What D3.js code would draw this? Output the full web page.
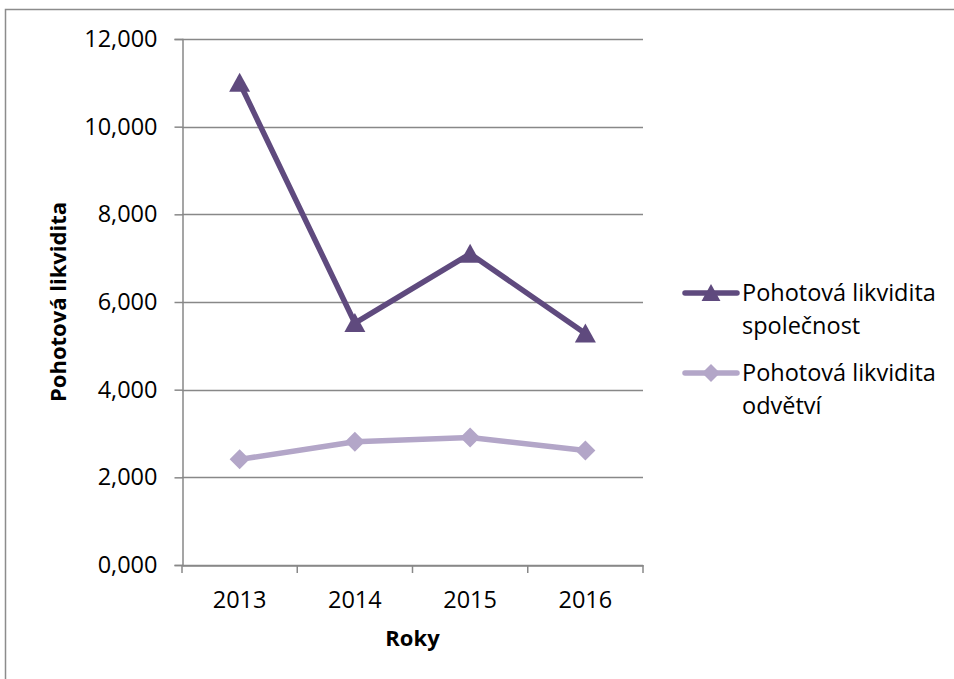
<!DOCTYPE html>
<html>
<head>
<meta charset="utf-8">
<script src="https://cdnjs.cloudflare.com/ajax/libs/d3/7.8.5/d3.min.js"></script>
<style>
  body { margin: 0; background: #fff; }
  svg { display: block; }
  text { font-family: "Open Sans", Lato, sans-serif; fill: #000; }
</style>
</head>
<body>
<svg id="chart" width="954" height="679"></svg>
<script>
// Years on the horizontal axis
const years = ["2013", "2014", "2015", "2016"];
// Quick ratio of the company and of the industry
const companyValues = [11.0, 5.52, 7.10, 5.28];
const industryValues = [2.41, 2.81, 2.91, 2.61];
const seriesNames = ["Pohotová likvidita společnost", "Pohotová likvidita odvětví"];
const yTicks = [0, 2, 4, 6, 8, 10, 12];

const FONT = "'Open Sans', Lato, sans-serif";
const svg = d3.select("#chart");
const plot = { left: 182, top: 39, right: 643, bottom: 565 };

// Outer chart frame
svg.append("rect")
  .attr("x", 5.5).attr("y", 9.5)
  .attr("width", 1000).attr("height", 1000)
  .attr("fill", "none").attr("stroke", "#8c8c8c").attr("stroke-width", 1.5);

const x = d3.scaleBand().domain(years).range([plot.left, plot.right]);
const y = d3.scaleLinear().domain([0, 12]).range([plot.bottom, plot.top]);

// Horizontal gridlines
svg.append("g")
  .selectAll("line")
  .data(yTicks)
  .join("line")
  .attr("x1", plot.left).attr("x2", plot.right)
  .attr("y1", d => Math.round(y(d)) + 0.5).attr("y2", d => Math.round(y(d)) + 0.5)
  .attr("stroke", "#888").attr("stroke-width", 1.5);

// Y axis (values shown with three decimals, decimal comma)
const yg = svg.append("g").attr("transform", `translate(${plot.left + 0.5},0)`)
  .call(d3.axisLeft(y).tickValues(yTicks).tickSize(8).tickPadding(17)
    .tickFormat(d => d + ",000"));
yg.select(".domain").attr("stroke", "#888").attr("stroke-width", 1.5);
yg.selectAll(".tick line").attr("stroke", "#888").attr("stroke-width", 1.5);
yg.selectAll(".tick text").attr("font-size", 23.5).attr("fill", "#000")
  .style("font-family", FONT);

// X axis
const xg = svg.append("g").attr("transform", `translate(0,${plot.bottom + 0.5})`)
  .call(d3.axisBottom(x).tickSize(0).tickPadding(26));
xg.select(".domain").attr("stroke", "#888").attr("stroke-width", 1.5);
xg.selectAll(".tick text").attr("font-size", 23.5).attr("fill", "#000")
  .style("font-family", FONT);
// Category separator ticks
const boundaries = years.map(d => x(d)).concat([x(years[years.length - 1]) + x.bandwidth()]);
svg.append("g").selectAll("line").data(boundaries).join("line")
  .attr("x1", d => d).attr("x2", d => d)
  .attr("y1", plot.bottom).attr("y2", plot.bottom + 8)
  .attr("stroke", "#888").attr("stroke-width", 1.5);

// Axis titles
svg.append("text")
  .attr("transform", `translate(66,302) rotate(-90)`)
  .attr("text-anchor", "middle")
  .attr("font-size", 22).attr("font-weight", "bold")
  .text("Pohotová likvidita");
svg.append("text")
  .attr("x", (plot.left + plot.right) / 2).attr("y", 646)
  .attr("text-anchor", "middle")
  .attr("font-size", 22).attr("font-weight", "bold")
  .text("Roky");

const cx = d => x(d) + x.bandwidth() / 2;
const line = d3.line().x(d => cx(d.year)).y(d => y(d.value));

const companyColor = "#5f4a7e";
const industryColor = "#b3a6c8";
const triangle = "M0,-10L10.5,9L-10.5,9Z";
const diamond = "M0,-10L10,0L0,10L-10,0Z";

const industryData = years.map((yr, i) => ({ year: yr, value: industryValues[i] }));
const companyData = years.map((yr, i) => ({ year: yr, value: companyValues[i] }));

svg.append("path").datum(industryData).attr("d", line)
  .attr("fill", "none").attr("stroke", industryColor).attr("stroke-width", 5.5)
  .attr("stroke-linejoin", "round");
svg.append("g").selectAll("path").data(industryData).join("path")
  .attr("transform", d => `translate(${cx(d.year)},${y(d.value)})`)
  .attr("d", diamond)
  .attr("fill", industryColor);

svg.append("path").datum(companyData).attr("d", line)
  .attr("fill", "none").attr("stroke", companyColor).attr("stroke-width", 5.5)
  .attr("stroke-linejoin", "round");
svg.append("g").selectAll("path").data(companyData).join("path")
  .attr("transform", d => `translate(${cx(d.year)},${y(d.value)})`)
  .attr("d", triangle)
  .attr("fill", companyColor);

// Legend
const legend = [
  { name: seriesNames[0], lines: ["Pohotová likvidita", "společnost"], color: companyColor, marker: triangle, y: 293 },
  { name: seriesNames[1], lines: ["Pohotová likvidita", "odvětví"], color: industryColor, marker: diamond, y: 373 }
];
const lg = svg.append("g").selectAll("g").data(legend).join("g")
  .attr("transform", d => `translate(0,${d.y})`);
lg.append("line").attr("x1", 685).attr("x2", 737).attr("y1", 0).attr("y2", 0)
  .attr("stroke", d => d.color).attr("stroke-width", 5.5).attr("stroke-linecap", "round");
lg.append("path").attr("transform", "translate(711,0) scale(0.9)")
  .attr("d", d => d.marker).attr("fill", d => d.color);
lg.append("text").attr("x", 742).attr("y", 8).attr("font-size", 23.5)
  .selectAll("tspan").data(d => d.lines).join("tspan")
  .attr("x", 742).attr("dy", (d, i) => i === 0 ? 0 : 33)
  .text(d => d);
</script>
</body>
</html>
